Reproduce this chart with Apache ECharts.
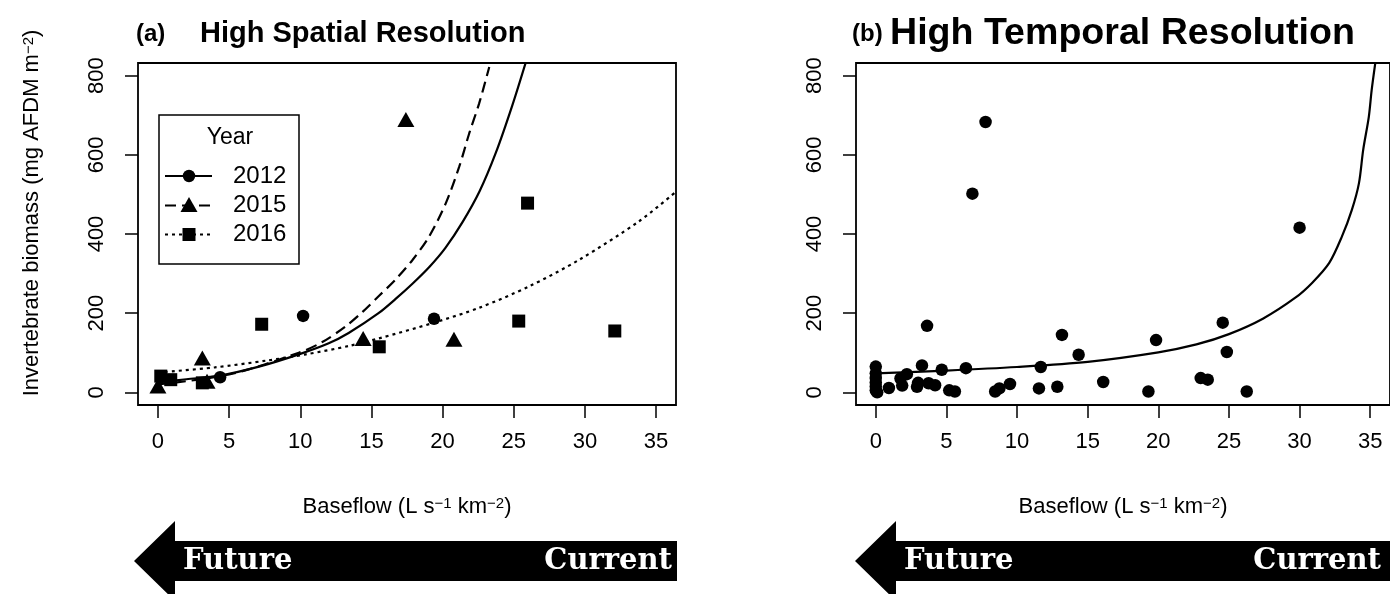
<!DOCTYPE html>
<html>
<head>
<meta charset="utf-8">
<script src="https://cdn.jsdelivr.net/npm/echarts@6/dist/echarts.min.js"></script>
<style>
  html, body { margin: 0; padding: 0; background: #ffffff; }
  #chart { width: 1390px; height: 594px; }
</style>
</head>
<body>
<div id="chart"></div>
<script>
// Axis ticks shared by both panels
const xTicks = [0, 5, 10, 15, 20, 25, 30, 35];
const yTicks = [0, 200, 400, 600, 800];

// Panel (a): sampled observations by year
const obs2012X = [4.37, 10.2, 19.4];
const obs2012Y = [38, 193, 186];
const obs2015X = [0.0, 3.12, 3.45, 14.42, 17.42, 20.8];
const obs2015Y = [16, 87, 28, 136, 689, 134];
const obs2016X = [0.2, 0.9, 3.12, 7.29, 15.55, 25.35, 25.97, 32.1];
const obs2016Y = [41, 32, 24, 172, 115, 180, 478, 155];

// Panel (a): fitted curves by year
const fit2012X = [0, 2, 4.3, 7.1, 9.9, 12, 13.4, 15.5, 16.7, 17.9, 19.1, 20.2, 21.4, 22.6, 23.75, 24.9, 25.9];
const fit2012Y = [25, 33, 42, 65, 96, 124, 150, 200, 236, 275, 318, 365, 430, 508, 606, 725, 840];
const fit2015X = [0, 5, 9.9, 11.55, 13.2, 14.4, 15.54, 16.7, 17.9, 19.06, 20.23, 21.17, 21.87, 22.57, 23.28];
const fit2015Y = [20, 45, 100, 127, 167, 204, 244, 285, 335, 394, 478, 570, 654, 730, 822];
const fit2016X = [0, 4, 7.6, 10.4, 13.4, 15.5, 19.4, 22.6, 26.1, 29.6, 33.8, 36.4];
const fit2016Y = [50, 63, 80, 96, 117, 136, 176, 214, 268, 335, 432, 507];

// Panel (b): high temporal resolution observations
const obsTempX = [0, 0, 0, 0, 0, 0, 0.1, 0.93, 1.75, 1.87, 2.2, 2.92, 3.0, 3.27, 3.63, 3.74, 4.2, 4.67, 5.2, 5.6,
  6.38, 6.84, 7.77, 8.45, 8.75, 9.5, 11.55, 11.68, 12.85, 13.18, 14.36, 16.1, 19.3, 19.84, 23.0, 23.5, 24.56, 24.85, 26.26, 30.0];
const obsTempY = [65, 48, 36, 25, 15, 5, 0, 11, 35, 17, 46, 14, 24, 68, 168, 23, 18, 57, 5, 2,
  61, 502, 683, 2, 10, 21, 10, 64, 14, 145, 95, 26, 2, 132, 36, 32, 176, 102, 2, 416];
const fitTempX = [0, 5, 10, 15, 20, 22.7, 25, 27.4, 29.7, 30.9, 32.1, 33.0, 33.7, 34.2, 34.5, 34.9, 35.1, 35.35];
const fitTempY = [48, 55, 64, 77, 101, 121, 147, 186, 239, 277, 327, 394, 461, 528, 612, 696, 763, 830];

const pairs = (xs, ys) => xs.map((x, i) => [x, ys[i]]);

const FONT = 'Liberation Sans, Arial, sans-serif';
const SERIF = 'DejaVu Serif, serif';
const BLACK = '#000000';
const supRich = { s: { fontSize: 15, verticalAlign: 'top', fill: BLACK, color: BLACK, fontFamily: FONT } };

function makeX(gridIndex) {
  return {
    type: 'value', gridIndex, min: -1.4, max: 36.4,
    axisLine: { show: false, onZero: false },
    splitLine: { show: false },
    axisTick: { show: true, inside: false, length: 13, customValues: xTicks, lineStyle: { color: BLACK, width: 1.5 } },
    axisLabel: { show: true, margin: 26, customValues: xTicks, color: BLACK, fontFamily: FONT, fontSize: 22 },
    name: 'Baseflow (L s{s|\u22121} km{s|\u22122})',
    nameLocation: 'middle', nameGap: 91,
    nameTextStyle: { color: BLACK, fontFamily: FONT, fontSize: 22, rich: supRich }
  };
}

function makeY(gridIndex) {
  return {
    type: 'value', gridIndex, min: -32, max: 832,
    axisLine: { show: false, onZero: false },
    splitLine: { show: false },
    axisTick: { show: true, inside: false, length: 13, customValues: yTicks, lineStyle: { color: BLACK, width: 1.5 } },
    axisLabel: { show: true, margin: 30, rotate: 90, customValues: yTicks, color: BLACK, fontFamily: FONT, fontSize: 22 }
  };
}

function curve(name, xi, xs, ys, type) {
  return {
    name, type: 'line', xAxisIndex: xi, yAxisIndex: xi,
    data: pairs(xs, ys), showSymbol: false, smooth: 0.3,
    clip: true, silent: true, z: 2,
    lineStyle: { color: BLACK, width: 2.2, type: type }
  };
}

function points(name, xi, xs, ys, symbol, size) {
  return {
    name, type: 'scatter', xAxisIndex: xi, yAxisIndex: xi,
    data: pairs(xs, ys), symbol, symbolSize: size, clip: false, z: 3,
    itemStyle: { color: BLACK, opacity: 1 }
  };
}

// Legend entries for panel (a)
const legendRows = [
  { label: '2012', dash: null, symbol: 'circle' },
  { label: '2015', dash: [11, 6], symbol: 'triangle' },
  { label: '2016', dash: [3, 4], symbol: 'square' }
];

function legendGraphics() {
  const g = [{
    type: 'rect', shape: { x: 159, y: 115, width: 140, height: 149 },
    style: { fill: '#fff', stroke: BLACK, lineWidth: 1.5 }, z: 10
  }, {
    type: 'text', x: 230, y: 138, z: 11,
    style: { text: 'Year', fill: BLACK, font: '23px ' + FONT, textAlign: 'center', textVerticalAlign: 'middle' }
  }];
  const rowsY = [176, 205.5, 234.5];
  legendRows.forEach((r, i) => {
    const y = rowsY[i];
    g.push({
      type: 'line', shape: { x1: 165, y1: y, x2: 212, y2: y }, z: 11,
      style: { stroke: BLACK, lineWidth: 2.2, lineDash: r.dash || null }
    });
    if (r.symbol === 'circle') {
      g.push({ type: 'circle', shape: { cx: 189, cy: y, r: 6.2 }, style: { fill: BLACK }, z: 12 });
    } else if (r.symbol === 'triangle') {
      g.push({ type: 'polygon', shape: { points: [[189, y - 8.5], [180.5, y + 6.5], [197.5, y + 6.5]] }, style: { fill: BLACK }, z: 12 });
    } else {
      g.push({ type: 'rect', shape: { x: 182.5, y: y - 6.5, width: 13, height: 13 }, style: { fill: BLACK }, z: 12 });
    }
    g.push({
      type: 'text', x: 233, y: y, z: 11,
      style: { text: r.label, fill: BLACK, font: '24px ' + FONT, textAlign: 'left', textVerticalAlign: 'middle' }
    });
  });
  return g;
}

function arrow(tipX, rightX) {
  const baseX = tipX + 41;
  return [{
    type: 'polygon', z: 5,
    shape: { points: [[tipX, 561], [baseX, 521], [baseX, 541], [rightX, 541], [rightX, 581], [baseX, 581], [baseX, 601]] },
    style: { fill: BLACK }
  }];
}

function arrowText(x, y, text, align) {
  return {
    type: 'text', x, y, z: 6,
    style: { text, fill: '#ffffff', font: 'bold 29px ' + SERIF, textAlign: align, textVerticalAlign: 'middle' }
  };
}

function titleText(x, text, size) {
  return {
    type: 'text', x, y: 34, z: 6,
    style: { text, fill: BLACK, font: 'bold ' + size + 'px ' + FONT, textAlign: 'left', textVerticalAlign: 'middle' }
  };
}

// Shared y-axis title, reading upward along the left edge
const yTitle = {
  type: 'text', x: 32, y: 213, rotation: Math.PI / 2, z: 6,
  style: {
    text: 'Invertebrate biomass (mg AFDM m{s|\u22122})',
    fill: BLACK, fontFamily: FONT, fontSize: 22,
    align: 'center', verticalAlign: 'middle',
    rich: supRich
  }
};

const chart = echarts.init(document.getElementById('chart'), null, { renderer: 'canvas' });
chart.setOption({
  backgroundColor: '#ffffff',
  animation: false,
  grid: [
    { left: 138, top: 63, width: 538, height: 342, show: true, borderColor: BLACK, borderWidth: 1.8, backgroundColor: 'transparent' },
    { left: 856, top: 63, width: 538, height: 342, show: true, borderColor: BLACK, borderWidth: 1.8, backgroundColor: 'transparent' }
  ],
  xAxis: [makeX(0), makeX(1)],
  yAxis: [makeY(0), makeY(1)],
  series: [
    curve('2012', 0, fit2012X, fit2012Y, 'solid'),
    curve('2015', 0, fit2015X, fit2015Y, [11, 6]),
    curve('2016', 0, fit2016X, fit2016Y, [3, 4]),
    points('2012 obs', 0, obs2012X, obs2012Y, 'circle', 12.5),
    points('2015 obs', 0, obs2015X, obs2015Y, 'triangle', [17, 15]),
    points('2016 obs', 0, obs2016X, obs2016Y, 'rect', 13),
    curve('fit', 1, fitTempX, fitTempY, 'solid'),
    points('obs', 1, obsTempX, obsTempY, 'circle', 12.5)
  ],
  graphic: [
    yTitle,
    titleText(136, '(a)', 24),
    titleText(200, 'High Spatial Resolution', 29),
    titleText(852, '(b)', 24),
    titleText(890, 'High Temporal Resolution', 37.6),
    ...legendGraphics(),
    ...arrow(134, 677),
    arrowText(183, 561, 'Future', 'left'),
    arrowText(672, 561, 'Current', 'right'),
    ...arrow(855, 1390),
    arrowText(904, 561, 'Future', 'left'),
    arrowText(1381, 561, 'Current', 'right')
  ]
});
</script>
</body>
</html>
